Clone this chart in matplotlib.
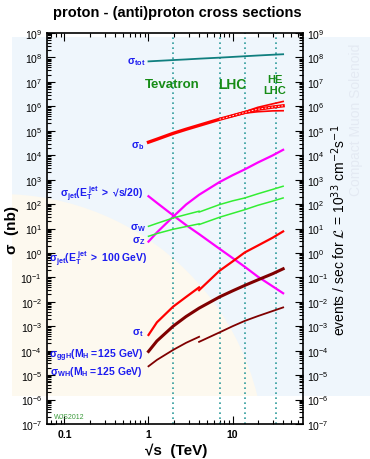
import numpy as np
import matplotlib
matplotlib.use('Agg')
import matplotlib.pyplot as plt
from matplotlib.ticker import LogLocator, NullFormatter
from matplotlib.patches import Rectangle, Ellipse

plt.rcParams['font.family'] = ['Liberation Sans', 'DejaVu Sans']
plt.rcParams['mathtext.fontset'] = 'custom'
plt.rcParams['mathtext.rm'] = 'Liberation Sans'
plt.rcParams['mathtext.bf'] = 'Liberation Sans:bold'
plt.rcParams['mathtext.it'] = 'Liberation Sans:italic'

# centre of mass energies (TeV)
sqrts = [1.0, 1.26, 1.96, 2.8, 4.0, 7.0, 10.0, 14.0, 20.0, 30.0, 40.0]
sqrts_ppbar = [1.0, 1.26, 1.96, 2.8, 4.0]
sqrts_pp = [4.0, 7.0, 10.0, 14.0, 20.0, 30.0, 40.0]
sqrts_band = [7.0, 10.0, 14.0, 20.0, 30.0, 40.0]

# cross sections (nb)
sig_tot = [6.9e7, 7.2e7, 7.8e7, 8.3e7, 8.9e7, 9.8e7, 1.05e8, 1.12e8, 1.2e8, 1.29e8, 1.35e8]
sig_b = [3.4e4, 4.5e4, 7.8e4, 1.15e5, 1.66e5, 2.95e5, 4.1e5, 5.6e5, 7.6e5, 9.3e5, 1.05e6]
sig_b_hi = [2.95e5, 4.3e5, 6.0e5, 9.1e5, 1.26e6, 1.58e6]
sig_b_lo = [2.95e5, 3.9e5, 5.25e5, 6.0e5, 6.5e5, 6.6e5]
sig_jet_s20 = [209, 112, 34.7, 13.8, 5.9, 1.48, 0.62, 0.27, 0.107, 0.043, 0.0224]
sig_jet_100 = [2.9, 6.9, 30.2, 95.5, 240, 794, 1510, 2630, 5010, 9770, 1.66e4]
sig_W_ppbar = [12.3, 16.2, 26.9, 37.2, 51]
sig_W_pp = [47, 95, 135, 178, 263, 398, 537]
sig_Z_ppbar = [4.8, 6.2, 9.3, 12.0, 15.5]
sig_Z_pp = [14.5, 28.8, 41.7, 58.9, 89, 132, 178]
sig_t_ppbar = [4.4e-4, 1.45e-3, 6.3e-3, 1.58e-2, 3.9e-2]
sig_t_pp = [0.030, 0.186, 0.447, 1.05, 2.0, 4.2, 7.6]
sig_ggH = [9.3e-5, 2.5e-4, 1.0e-3, 2.5e-3, 5.5e-3, 1.58e-2, 2.8e-2, 4.7e-2, 7.9e-2, 0.141, 0.224]
sig_WH_ppbar = [2.3e-5, 4.2e-5, 1.07e-4, 2.1e-4, 3.7e-4]
sig_WH_pp = [2.3e-4, 5.6e-4, 1.0e-3, 1.66e-3, 2.6e-3, 4.2e-3, 5.9e-3]

colliders = [1.96, 7.0, 14.0, 33.0]

fig = plt.figure(figsize=(3.7, 4.6), dpi=100)

# pale CMS style background
bg = Rectangle((12 / 370, 1 - 397 / 460), (370 - 12) / 370, (397 - 38) / 460,
               transform=fig.transFigure, facecolor='#eff6fc', edgecolor='none', zorder=-10)
fig.patches.append(bg)
beige = Ellipse((0, 0), 2 * 265 / 370, 2 * 265 / 460, transform=fig.transFigure,
                facecolor='#fdf9ef', edgecolor='none', zorder=-9)
beige.set_clip_path(bg)
fig.patches.append(beige)
fig.text(0.962, 0.74, 'Compact Muon Solenoid', rotation=90, fontsize=10,
         color='#e4eaf3', ha='center', va='center', zorder=-8)

ax = fig.add_axes([47 / 370, 1 - 425 / 460, (302.5 - 47) / 370, (425 - 34) / 460])
ax.patch.set_alpha(0)
ax.set_xscale('log')
ax.set_yscale('log')
ax.set_xlim(0.062, 68)
ax.set_ylim(1e-7, 1e9)

for e in colliders:
    ax.axvline(e, color='#2f9c9c', ls=(0, (1, 2)), lw=1.2)

ax.plot(sqrts, sig_tot, color='#107f7f', lw=1.3)
ax.plot(sqrts, sig_b, color='red', lw=2.4)
ax.plot(sqrts_band, sig_b_hi, color='red', lw=1.2)
ax.plot(sqrts_band, sig_b_lo, color='red', lw=1.2)
ax.plot(sqrts[5:], sig_b[5:], color='white', lw=0.6, ls=(0, (2, 2)))
ax.plot(sqrts, sig_jet_s20, color='#ff00ff', lw=1.6)
ax.plot(sqrts, sig_jet_100, color='#ff00ff', lw=1.6)
ax.plot(sqrts_ppbar, sig_W_ppbar, color='#33ee33', lw=1.1)
ax.plot(sqrts_pp, sig_W_pp, color='#33ee33', lw=1.1)
ax.plot(sqrts_ppbar, sig_Z_ppbar, color='#33ee33', lw=1.1)
ax.plot(sqrts_pp, sig_Z_pp, color='#33ee33', lw=1.1)
ax.plot(sqrts_ppbar, sig_t_ppbar, color='red', lw=1.6)
ax.plot(sqrts_pp, sig_t_pp, color='red', lw=1.6)
ax.plot(sqrts, sig_ggH, color='#800000', lw=2.2)
ax.plot(sqrts_ppbar, sig_WH_ppbar, color='#800000', lw=1.3)
ax.plot(sqrts_pp, sig_WH_pp, color='#800000', lw=1.3)

# curve labels
blue = '#1c1cf0'
labels = [
    (0.93, 6.8e7, r'$\mathbf{σ_{tot}}$'),
    (0.90, 2.6e4, r'$\mathbf{σ_b}$'),
    (0.87, 280, r'$\mathbf{σ_{jet}(E_T^{\ jet}\ >\ √s/20)}$'),
    (0.93, 11.5, r'$\mathbf{σ_W}$'),
    (0.93, 3.2, r'$\mathbf{σ_Z}$'),
    (0.97, 0.6, r'$\mathbf{σ_{jet}(E_T^{\ jet}\ >\ 100\ GeV)}$'),
    (0.87, 5.6e-4, r'$\mathbf{σ_t}$'),
    (0.87, 6.8e-5, r'$\mathbf{σ_{ggH}(M_H{=}125\ GeV)}$'),
    (0.85, 1.5e-5, r'$\mathbf{σ_{WH}(M_H{=}125\ GeV)}$'),
]
for x, y, s in labels:
    ax.text(x, y, s, color=blue, fontsize=7.5, ha='right', va='center')

green = '#168c16'
ax.text(1.92, 8.1e6, 'Tevatron', color=green, fontsize=9.5, fontweight='bold',
        ha='center', va='center')
ax.text(9.9, 8.1e6, 'LHC', color=green, fontsize=10, fontweight='bold',
        ha='center', va='center')
ax.text(32, 8.1e6, 'HE\nLHC', color=green, fontsize=8, fontweight='bold',
        ha='center', va='center', linespacing=1.1)
ax.text(0.075, 2e-7, 'WJS2012', color='#3a9a3a', fontsize=5, ha='left', va='center')

ax.set_xticks([0.1, 1, 10], ['0.1', '1', '10'])
ax.xaxis.set_minor_locator(LogLocator(base=10, subs=np.arange(2, 10), numticks=10))
ax.xaxis.set_minor_formatter(NullFormatter())
ax.yaxis.set_major_locator(LogLocator(base=10, numticks=20))
ax.yaxis.set_minor_locator(LogLocator(base=10, subs=np.arange(2, 10), numticks=20))
ax.yaxis.set_minor_formatter(NullFormatter())
ax.tick_params(which='both', direction='in', top=True, right=True,
               labelright=True, labelsize=7.5, width=0.8)
ax.tick_params(which='major', length=6)
ax.tick_params(which='minor', length=3)
for lab in ax.get_xticklabels():
    lab.set_fontweight('bold')
for s in ax.spines.values():
    s.set_linewidth(1.2)

fig.text(0.478, 0.972, 'proton - (anti)proton cross sections', fontsize=10.5,
         fontweight='bold', ha='center', va='center')
fig.text(0.477, 0.019, '√s  (TeV)', fontsize=11, fontweight='bold',
         ha='center', va='center')
fig.text(0.033, 0.5, 'σ  (nb)', fontsize=11, fontweight='bold', rotation=90,
         ha='center', va='center')
fig.text(0.915, 0.5, r'events / sec for $\mathcal{L}$ = 10$^{33}$ cm$^{-2}$s$^{-1}$',
         fontsize=10, rotation=90, ha='center', va='center',
         math_fontfamily='dejavusans')

fig.savefig('out.png', dpi=100)
